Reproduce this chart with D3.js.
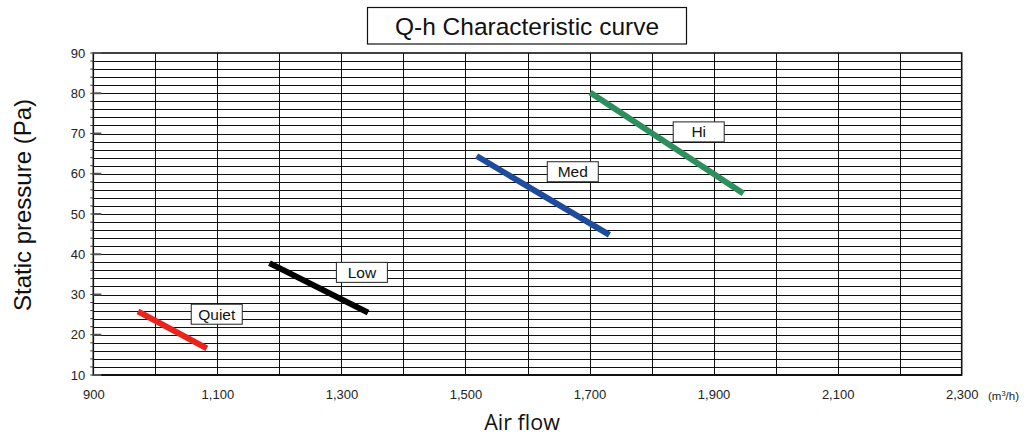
<!DOCTYPE html>
<html><head><meta charset="utf-8">
<script src="https://cdn.jsdelivr.net/npm/d3@7"></script>
<style>body{margin:0;background:#fff;} svg{display:block;}</style>
</head><body>
<svg id="c" width="1027" height="437"></svg>
<script>
const seriesNames = ["Quiet", "Low", "Med", "Hi"];
const seriesColors = ["#e8241c", "#000000", "#1e4b9c", "#2e8f5e"];
const quietFlow = [972, 1083];  const quietPressure = [25.8, 16.6];
const lowFlow = [1184, 1343];   const lowPressure = [37.8, 25.5];
const medFlow = [1518, 1732];   const medPressure = [64.4, 44.8];
const hiFlow = [1701, 1948];    const hiPressure = [80.2, 55.1];
const labelFlow = [1099, 1333, 1673, 1876];
const labelPressure = [25.1, 35.5, 60.5, 70.4];
const xTickValues = [900, 1100, 1300, 1500, 1700, 1900, 2100, 2300];
const yTickValues = [10, 20, 30, 40, 50, 60, 70, 80, 90];

const flows = [quietFlow, lowFlow, medFlow, hiFlow];
const pressures = [quietPressure, lowPressure, medPressure, hiPressure];

const svg = d3.select("#c");
const L = 93.3, R = 961.7, T = 53, B = 375;
const x = d3.scaleLinear().domain([900, 2300]).range([L, R]);
const y = d3.scaleLinear().domain([10, 90]).range([B, T]);
const font = "'Liberation Sans', Arial, sans-serif";

// grid
const g = svg.append("g");
g.selectAll("line.h").data(d3.range(12, 90, 2)).join("line")
  .attr("x1", L).attr("x2", R).attr("y1", d => Math.round(y(d)) + 0.5).attr("y2", d => Math.round(y(d)) + 0.5)
  .attr("stroke", "#111").attr("stroke-width", 1);
g.selectAll("line.v").data(d3.range(1000, 2300, 100)).join("line")
  .attr("y1", T).attr("y2", B).attr("x1", d => Math.round(x(d)) + 0.5).attr("x2", d => Math.round(x(d)) + 0.5)
  .attr("stroke", "#111").attr("stroke-width", 1);
// border
g.append("rect").attr("x", L).attr("y", T).attr("width", R - L).attr("height", B - T)
  .attr("fill", "none").attr("stroke", "#111").attr("stroke-width", 1.6);
g.append("line").attr("x1", L).attr("x2", R).attr("y1", B).attr("y2", B).attr("stroke", "#111").attr("stroke-width", 2.2);

// y axis
const yAxis = d3.axisLeft(y).tickValues(yTickValues).tickSize(0).tickPadding(8);
const ya = svg.append("g").attr("transform", `translate(${L},0)`).call(yAxis);
ya.select(".domain").remove();
ya.selectAll("text").attr("font-family", font).attr("font-size", 13).attr("fill", "#222");
// minor outward ticks and major inward ticks
svg.append("g").selectAll("line").data(d3.range(10, 91, 2)).join("line")
  .attr("x1", L - 3).attr("x2", L).attr("y1", d => y(d)).attr("y2", d => y(d)).attr("stroke", "#333");
svg.append("g").selectAll("line").data(yTickValues).join("line")
  .attr("x1", L).attr("x2", L + 8).attr("y1", d => y(d)).attr("y2", d => y(d)).attr("stroke", "#555").attr("stroke-width", 2);

// x axis
const xAxis = d3.axisBottom(x).tickValues(xTickValues).tickSize(0).tickPadding(15).tickFormat(d3.format(","));
const xa = svg.append("g").attr("transform", `translate(0,${B})`).call(xAxis);
xa.select(".domain").remove();
xa.selectAll("text").attr("font-family", font).attr("font-size", 13).attr("fill", "#222");

// unit
const u = svg.append("text").attr("x", 988).attr("y", 400).attr("font-family", font).attr("font-size", 11.5).attr("fill", "#222");
u.append("tspan").text("(m");
u.append("tspan").attr("font-size", 7.5).attr("dy", -4.5).text("3");
u.append("tspan").attr("dy", 4.5).text("/h)");

// series lines
seriesNames.forEach((name, i) => {
  const pts = flows[i].map((f, j) => [f, pressures[i][j]]);
  svg.append("path").datum(pts)
    .attr("d", d3.line().x(d => x(d[0])).y(d => y(d[1])))
    .attr("stroke", seriesColors[i]).attr("stroke-width", 6).attr("fill", "none");
});

// labels
seriesNames.forEach((name, i) => {
  const cx = x(labelFlow[i]), cy = y(labelPressure[i]);
  svg.append("rect").attr("x", cx - 25.5).attr("y", cy - 10).attr("width", 51).attr("height", 20)
    .attr("fill", "#fff").attr("stroke", "#222").attr("stroke-width", 1);
  svg.append("text").attr("x", cx).attr("y", cy + 5.5).attr("text-anchor", "middle")
    .attr("font-family", font).attr("font-size", 15.5).attr("fill", "#111").text(name);
});

// title
svg.append("rect").attr("x", 367.5).attr("y", 7.5).attr("width", 319).attr("height", 36.5)
  .attr("fill", "#fff").attr("stroke", "#111").attr("stroke-width", 1.2);
svg.append("text").attr("x", 527).attr("y", 35).attr("text-anchor", "middle")
  .attr("font-family", font).attr("font-size", 24.5).attr("fill", "#111").text("Q-h Characteristic curve");

// axis titles
svg.append("text").attr("transform", `translate(31,205) rotate(-90)`).attr("text-anchor", "middle")
  .attr("font-family", font).attr("font-size", 24).attr("fill", "#111").text("Static pressure (Pa)");
svg.append("text").attr("x", 522).attr("y", 430).attr("text-anchor", "middle")
  .attr("font-family", "'Open Sans', sans-serif").attr("font-size", 21.5).attr("fill", "#111").text("Air flow");
</script>
</body></html>
